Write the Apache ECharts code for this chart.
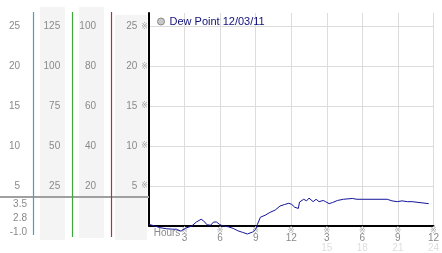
<!DOCTYPE html>
<html><head><meta charset="utf-8">
<script src="https://cdn.jsdelivr.net/npm/echarts@6/dist/echarts.min.js"></script>
<style>html,body{margin:0;padding:0;background:#fff}#c{width:442px;height:253px}</style>
</head><body><div id="c"></div>
<script>
const seriesName = 'Dew Point 12/03/11';
const hours = [0,0.5,0.9,1.5,2.0,2.3,2.7,3.05,3.6,4.0,4.4,4.6,4.9,5.2,5.45,5.7,5.95,6.25,6.7,7.1,7.5,7.9,8.3,8.75,9.0,9.15,9.4,9.8,10.2,10.65,11.05,11.45,11.8,12.05,12.3,12.45,12.6,12.7,13.05,13.3,13.5,13.85,14.1,14.35,14.7,14.9,15.2,15.5,15.9,16.4,17.15,17.55,18.05,20.1,20.5,20.95,21.35,21.8,22.2,22.35,23.6];
const dewPoint = [0.2,0.0,-0.2,-0.35,-0.4,-0.4,-0.65,-0.3,0.0,0.5,0.85,0.65,0.15,0.1,0.5,0.5,0.2,0.0,-0.1,-0.3,-0.6,-0.8,-1.0,-0.75,-0.4,0.2,1.1,1.35,1.7,2.0,2.5,2.7,2.85,2.7,2.35,2.5,2.2,3.0,3.35,3.15,3.5,3.05,3.35,3.05,3.2,3.05,2.8,2.95,3.2,3.35,3.45,3.35,3.35,3.35,3.15,3.05,3.15,3.05,3.05,2.8,2.8];
const xTopLabels = ['Hours','3','6','9','12','3','6','9','12'];
const xBottomLabels = ['','','','','','15','18','21','24'];
const mainTicks = ['5','10','15','20','25'];
const col1Ticks = ['5','10','15','20','25'];
const col2Ticks = ['25','50','75','100','125'];
const col3Ticks = ['20','40','60','80','100'];
const statValues = ['3.5','2.8','-1.0'];

const FONT = 'Liberation Sans, Arial, sans-serif';
const GRAY = '#8a8a8a';
const TOPV = 26.7;

function tickFmt(list, step) {
  return function (v) {
    const i = Math.round(v / step) - 1;
    if (Math.abs(v / step - Math.round(v / step)) > 1e-6) return '';
    return (i >= 0 && i < list.length) ? list[i] : '';
  };
}

const chart = echarts.init(document.getElementById('c'), null, {renderer: 'canvas'});
const option = {
  animation: false,
  grid: {left: 149, right: 2, top: 13, bottom: 26.2, containLabel: false},
  legend: {
    left: 152, top: 11, icon: 'circle', itemWidth: 7, itemHeight: 7,
    data: [{name: seriesName, itemStyle: {color: '#c8c8c8', borderColor: '#8a8a8a', borderWidth: 1}}],
    textStyle: {color: '#10107a', fontSize: 11, fontFamily: FONT},
    selectedMode: false
  },
  xAxis: {
    type: 'value', min: 0, max: 24, interval: 3,
    axisLine: {show: true, onZero: false, lineStyle: {color: '#000', width: 2}},
    axisTick: {show: false},
    splitLine: {show: true, lineStyle: {color: '#dcdcdc', width: 1}},
    axisLabel: {
      margin: 1, showMaxLabel: true, showMinLabel: true,
      formatter: function (v) {
        const i = Math.round(v / 3);
        if (i === 0) return '{h|' + xTopLabels[0] + '}';
        return '{t|※}\n{n|' + xTopLabels[i] + '}\n{s|' + (xBottomLabels[i] || ' ') + '}';
      },
      rich: {
        h: {fontSize: 10, color: GRAY, fontFamily: FONT, lineHeight: 11, padding: [1, 0, 0, 36]},
        t: {fontSize: 8, color: '#a8a8a8', lineHeight: 7, fontFamily: 'DejaVu Sans'},
        n: {fontSize: 10, color: GRAY, fontFamily: FONT, lineHeight: 9},
        s: {fontSize: 10, color: '#dedede', fontFamily: FONT, lineHeight: 10}
      }
    }
  },
  yAxis: [
    {
      type: 'value', position: 'left', offset: 0, min: 0, max: TOPV, interval: 5,
      axisLine: {show: true, onZero: false, lineStyle: {color: '#000', width: 2}},
      axisTick: {show: false},
      splitLine: {show: true, lineStyle: {color: ['#dcdcdc','#dcdcdc','#dcdcdc','#dcdcdc','#dcdcdc','#dcdcdc','rgba(0,0,0,0)'], width: 1}},
      axisLabel: {
        margin: 1,
        formatter: function (v) {
          const s = tickFmt(mainTicks, 5)(v);
          return s ? '{n|' + s + '}{m|※}' : '';
        },
        rich: {
          n: {fontSize: 10, color: GRAY, fontFamily: FONT},
          m: {fontSize: 8, color: '#a8a8a8', padding: [0, 0, 0, 4], fontFamily: 'DejaVu Sans'}
        }
      }
    },
    {
      type: 'value', position: 'left', offset: 116, min: 0, max: TOPV, interval: 5,
      axisLine: {show: false}, axisTick: {show: false}, splitLine: {show: false},
      axisLabel: {margin: 13, color: GRAY, fontSize: 10, fontFamily: FONT, formatter: tickFmt(col1Ticks, 5)}
    },
    {
      type: 'value', position: 'left', offset: 76.3, min: 0, max: TOPV * 5, interval: 25,
      axisLine: {show: false}, axisTick: {show: false}, splitLine: {show: false},
      axisLabel: {margin: 12.5, color: GRAY, fontSize: 10, fontFamily: FONT, formatter: tickFmt(col2Ticks, 25)}
    },
    {
      type: 'value', position: 'left', offset: 38, min: 0, max: TOPV * 4, interval: 20,
      axisLine: {show: false}, axisTick: {show: false}, splitLine: {show: false},
      axisLabel: {margin: 15, color: GRAY, fontSize: 10, fontFamily: FONT, formatter: tickFmt(col3Ticks, 20)}
    }
  ],
  series: [{
    name: seriesName, type: 'line', yAxisIndex: 0,
    data: hours.map((h, i) => [h, dewPoint[i]]),
    showSymbol: false, clip: false, z: 5,
    lineStyle: {color: '#14149a', width: 1},
    itemStyle: {color: '#14149a'}
  }],
  graphic: [
    {type: 'rect', z: -10, shape: {x: 40, y: 7, width: 25, height: 233}, style: {fill: '#f4f4f4'}},
    {type: 'rect', z: -10, shape: {x: 79, y: 7, width: 25, height: 231}, style: {fill: '#f4f4f4'}},
    {type: 'rect', z: -10, shape: {x: 115, y: 15, width: 32, height: 225}, style: {fill: '#f4f4f4'}},
    {type: 'line', z: 1, shape: {x1: 0, y1: 197, x2: 149, y2: 197}, style: {stroke: '#a0a0a0', lineWidth: 2}},
    {type: 'line', z: 2, shape: {x1: 33.5, y1: 12, x2: 33.5, y2: 235}, style: {stroke: '#3aa6c4', lineWidth: 1.2}},
    {type: 'line', z: 2, shape: {x1: 72.5, y1: 12, x2: 72.5, y2: 237}, style: {stroke: '#3ea83e', lineWidth: 1.2}},
    {type: 'line', z: 2, shape: {x1: 111.5, y1: 12, x2: 111.5, y2: 237}, style: {stroke: '#b03434', lineWidth: 1.2}}
  ].concat(statValues.map((s, i) => ({
    type: 'text', z: 3, x: 27, y: 204 + i * 14,
    style: {text: s, align: 'right', textAlign: 'right', verticalAlign: 'middle', textVerticalAlign: 'middle',
            fill: GRAY, font: '10px ' + FONT}
  })))
};
chart.setOption(option);
</script></body></html>
